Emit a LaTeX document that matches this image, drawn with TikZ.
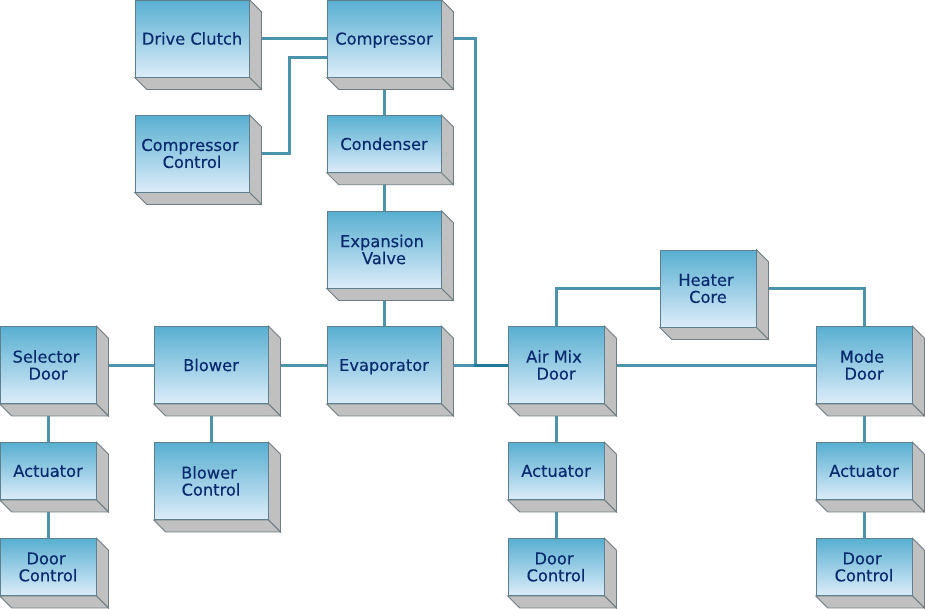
\documentclass[tikz,border=0pt]{standalone}
\usepackage{fontspec}
\newfontfamily\boxfont[RawFeature={embolden=0.3}]{DejaVu Sans}
\usetikzlibrary{backgrounds,calc}
\definecolor{linkblue}{HTML}{107092}
\definecolor{edgeblue}{HTML}{5E7F8E}
\definecolor{sideedge}{HTML}{6F7C82}
\definecolor{topblue}{HTML}{58AFD1}
\definecolor{lowblue}{HTML}{DCECF9}
\definecolor{sidegray}{HTML}{C0C0C0}
\definecolor{inkblue}{HTML}{0A2A6E}
\newcommand{\lf}{\kern3pt\\}

\begin{document}
\begin{tikzpicture}[x=0.75pt,y=-0.75pt,node distance=72pt]

	\tikzstyle{side}=[draw=sideedge,fill=sidegray,line width=0.6pt]
	\tikzstyle{block}=[rectangle,draw=edgeblue,line width=0.6pt,top color=topblue,bottom color=lowblue,
		text=inkblue,font=\boxfont\fontsize{12.2}{12.75}\selectfont,align=center,inner sep=0pt,
		minimum width=72pt,minimum height=57.75pt,
		append after command={\pgfextra{
			\draw [side] (\tikzlastnode.north east) -- ++(12,12) -- ($(\tikzlastnode.south east)+(12,12)$) -- (\tikzlastnode.south east) -- cycle;
			\draw [side] (\tikzlastnode.south west) -- ++(12,12) -- ($(\tikzlastnode.south east)+(12,12)$) -- (\tikzlastnode.south east) -- cycle;
		}}]
	\tikzstyle{wide}=[block,minimum width=85.5pt]
	\tikzstyle{short}=[minimum height=42.75pt]
	\tikzstyle{link}=[draw=linkblue,line width=2.25pt,opacity=0.75]

	\useasboundingbox (0,0) rectangle (925,608);

	\node [wide,text depth=0pt] (comp) at (384,38.5) {Compressor};
	\node [wide] (clutch) [left of=comp,node distance=144pt] {Drive Clutch};
	\node [wide] (cctrl) [below of=clutch,node distance=86.25pt] {Compressor\lf Control};
	\node [wide,short] (cond) [below of=comp,node distance=79pt] {Condenser};
	\node [wide] (valve) [below of=cond,node distance=79.25pt] {Expansion\lf Valve};
	\node [wide,text depth=0pt] (evap) [below of=valve,node distance=86.625pt] {Evaporator};
	\node [wide] (blower) [left of=evap,node distance=129.75pt] {Blower};
	\node [wide] (bctrl) [below of=blower,node distance=87pt] {Blower\lf Control};

	\node [block] (sel) [left of=blower,node distance=122.25pt] {Selector\lf Door};
	\node [block,short] (act1) [below of=sel,node distance=79.5pt] {Actuator};
	\node [block,short] (door1) [below of=act1] {Door\lf Control};

	\node [block] (air) [right of=evap,node distance=129pt] {Air Mix\lf Door};
	\node [block,short] (act2) [below of=air,node distance=79.5pt] {Actuator};
	\node [block,short] (door2) [below of=act2] {Door\lf Control};

	\node [block] (mode) [right of=air,node distance=231pt] {Mode\lf Door};
	\node [block,short] (act3) [below of=mode,node distance=79.5pt] {Actuator};
	\node [block,short] (door3) [below of=act3] {Door\lf Control};

	\node [block] (heat) at (708,288.5) {Heater\lf Core};

	\coordinate (jog) at (289,57);
	\coordinate (compin) at (327,57);
	\coordinate (drop) at (475,365);

	\begin{pgfonlayer}{background}
		\draw [link] (clutch) -- (comp);
		\draw [link] (cctrl.east) -| (jog) -- (compin);
		\draw [link] (comp) -- (cond);
		\draw [link] (cond) -- (valve);
		\draw [link] (valve) -- (evap);
		\draw [link] (sel) -- (blower);
		\draw [link] (blower) -- (evap);
		\draw [link] (blower) -- (bctrl);
		\draw [link] (sel) -- (act1);
		\draw [link] (act1) -- (door1);
		\draw [link] (evap) -- (air);
		\draw [link] (comp.east) -| (drop) -- (air.west);
		\draw [link] (air) -- (act2);
		\draw [link] (act2) -- (door2);
		\draw [link] (air) -- (mode);
		\draw [link] (mode) -- (act3);
		\draw [link] (act3) -- (door3);
		\draw [link] (air.north) |- (heat.west);
		\draw [link] (mode.north) |- (heat.east);
	\end{pgfonlayer}
\end{tikzpicture}
\end{document}
